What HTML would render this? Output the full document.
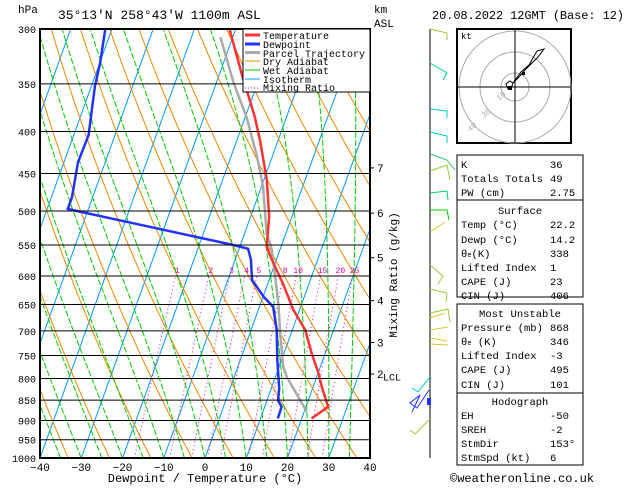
<!DOCTYPE html>
<html><head><meta charset="utf-8"><style>
body{margin:0;background:#fff;}
svg text{font-family:"Liberation Mono","DejaVu Sans Mono",monospace;}
</style></head><body>
<svg id="c" width="629" height="486" viewBox="0 0 629 486" xmlns="http://www.w3.org/2000/svg">
<defs><clipPath id="pc"><rect x="40" y="29" width="330" height="429"/></clipPath></defs>
<g id="bg" clip-path="url(#pc)"></g>
<g id="prof" clip-path="url(#pc)"></g>
<g id="ax"></g>
<text x="18" y="13" font-size="11">hPa</text>
<text x="58" y="19" font-size="13">35°13'N 258°43'W 1100m ASL</text>
<text x="374" y="13" font-size="11">km</text>
<text x="374" y="27" font-size="11">ASL</text>
<text x="432" y="19" font-size="12" textLength="192">20.08.2022 12GMT (Base: 12)</text>
<text x="205" y="482" font-size="12" text-anchor="middle">Dewpoint / Temperature (°C)</text>
<text transform="translate(397,275) rotate(-90)" font-size="11" text-anchor="middle">Mixing Ratio (g/kg)</text>
<g>
<rect x="243" y="29" width="127" height="63" fill="#fff" stroke="#000"/>
<line x1="245" y1="35" x2="260" y2="35" stroke="#f33" stroke-width="3"/><text x="263" y="39" font-size="10">Temperature</text>
<line x1="245" y1="44" x2="260" y2="44" stroke="#23f" stroke-width="3"/><text x="263" y="48" font-size="10">Dewpoint</text>
<line x1="245" y1="52.5" x2="260" y2="52.5" stroke="#aaa" stroke-width="3"/><text x="263" y="57" font-size="10">Parcel Trajectory</text>
<line x1="245" y1="61" x2="260" y2="61" stroke="#e80"/><text x="263" y="65" font-size="10">Dry Adiabat</text>
<line x1="245" y1="70" x2="260" y2="70" stroke="#0c0"/><text x="263" y="74" font-size="10">Wet Adiabat</text>
<line x1="245" y1="79" x2="260" y2="79" stroke="#09f"/><text x="263" y="83" font-size="10">Isotherm</text>
<line x1="245" y1="88" x2="260" y2="88" stroke="#e0a" stroke-dasharray="1,2"/><text x="263" y="91" font-size="10">Mixing Ratio</text>
</g>
<g id="km"></g>
<g fill="none" stroke-width="1">
<line x1="430" y1="29" x2="430" y2="458" stroke="#000"/>
<polyline points="430,29 447,33 447,40" stroke="#9c3"/>
<polyline points="430,63 447,73 443,80" stroke="#0c9"/>
<polyline points="430,109 447,111 447,118" stroke="#0cc"/>
<polyline points="430,132 447,136 447,143" stroke="#0cc"/>
<polyline points="430,154 447,160 455,170" stroke="#3c6"/>
<polyline points="430,171 447,165 450,180" stroke="#9c3"/>
<polyline points="430,193 447,191 448,200" stroke="#0c6"/>
<polyline points="430,210 447,210 449,220" stroke="#0c0"/>
<polyline points="430,232 445,222" stroke="#cc3"/>
<polyline points="430,265 443,276 438,284" stroke="#9c3"/>
<polyline points="430,289 447,293 446,302" stroke="#9c3"/>
<polyline points="430,313 448,309 450,322" stroke="#9c3"/>
<polyline points="430,318 445,313" stroke="#cc3"/>
<polyline points="430,330 448,327" stroke="#cc3"/>
<polyline points="430,338 447,341" stroke="#cc3"/>
<polyline points="430,344 448,345" stroke="#cc3"/>
<polyline points="430,377 418,392 412,388" stroke="#0cc"/>
<polyline points="429,390 417,408 410,403 420,395 412,412" stroke="#23f"/>
<rect x="427" y="398" width="4" height="7" fill="#23f" stroke="none"/>
<polyline points="430,419 415,434 410,430" stroke="#9c3"/>
</g>
<g>
<rect x="457" y="29" width="114" height="114" fill="#fff" stroke="#000" stroke-width="2"/>
<g fill="none" stroke="#aaa"><circle cx="515" cy="87" r="14"/><circle cx="515" cy="87" r="35"/><circle cx="515" cy="87" r="56"/></g>
<line x1="458" y1="87" x2="570" y2="87" stroke="#000"/><line x1="515" y1="30" x2="515" y2="142" stroke="#000"/>
<text x="461" y="39" font-size="9">kt</text>
<text x="499" y="101" font-size="8" fill="#aaa" transform="rotate(-40 499 101)">10</text>
<text x="484" y="118" font-size="8" fill="#aaa" transform="rotate(-40 484 118)">30</text>
<text x="470" y="132" font-size="8" fill="#aaa" transform="rotate(-40 470 132)">40</text>
<polyline points="508,89 506,84 510,81 513,83 521,72 529,65 537,51 544,49 538,57 533,62 525,70 518,78 513,83 511,89" fill="none" stroke="#000"/>
<rect x="508" y="86" width="4" height="4"/><rect x="522" y="72" width="3" height="3"/>
</g>
<g font-size="10.5">
<rect x="457" y="155" width="126" height="45" fill="none" stroke="#000"/>
<text x="461" y="168">K</text><text x="550" y="168">36</text>
<text x="461" y="182">Totals Totals</text><text x="550" y="182">49</text>
<text x="461" y="196">PW (cm)</text><text x="550" y="196">2.75</text>
<rect x="457" y="200" width="126" height="97" fill="none" stroke="#000"/>
<text x="520" y="214" text-anchor="middle">Surface</text>
<text x="461" y="228">Temp (°C)</text><text x="550" y="228">22.2</text>
<text x="461" y="243">Dewp (°C)</text><text x="550" y="243">14.2</text>
<text x="461" y="257">θ<tspan font-size="7">e</tspan>(K)</text><text x="550" y="257">338</text>
<text x="461" y="271">Lifted Index</text><text x="550" y="271">1</text>
<text x="461" y="285">CAPE (J)</text><text x="550" y="285">23</text>
<text x="461" y="299">CIN (J)</text><text x="550" y="299">406</text>
<rect x="457" y="304" width="126" height="89" fill="none" stroke="#000"/>
<text x="520" y="317" text-anchor="middle">Most Unstable</text>
<text x="461" y="331">Pressure (mb)</text><text x="550" y="331">868</text>
<text x="461" y="345">θ<tspan font-size="7">e</tspan> (K)</text><text x="550" y="345">346</text>
<text x="461" y="359">Lifted Index</text><text x="550" y="359">-3</text>
<text x="461" y="373">CAPE (J)</text><text x="550" y="373">495</text>
<text x="461" y="388">CIN (J)</text><text x="550" y="388">101</text>
<rect x="457" y="393" width="126" height="72" fill="none" stroke="#000"/>
<text x="520" y="405" text-anchor="middle">Hodograph</text>
<text x="461" y="419">EH</text><text x="550" y="419">-50</text>
<text x="461" y="433">SREH</text><text x="550" y="433">-2</text>
<text x="461" y="447">StmDir</text><text x="550" y="447">153°</text>
<text x="461" y="461">StmSpd (kt)</text><text x="550" y="461">6</text>
</g>
<text x="450" y="482" font-size="12">©weatheronline.co.uk</text>
</svg>
<script>
const pLevels=[300,350,400,450,500,550,600,650,700,750,800,850,900,950,1000];
const tTicks=[-40,-30,-20,-10,0,10,20,30,40];
const tempP=[895,866,819,788,745,698,660,613,579,553,508,458,410,384,361,341,300];
const tempT=[22.4,25.4,22.1,20.1,16.7,13.1,8.5,3.7,-0.4,-3.5,-5.5,-9.3,-14.4,-17.7,-21.2,-24.5,-31.5];
const dewP=[895,866,851,822,762,698,654,637,607,573,556,550,500,497,481,436,404,353,330,300];
const dewT=[14.2,14.1,12.7,11.9,9.1,6.2,3.3,0.3,-4.1,-6.2,-7.8,-11.7,-52.6,-55,-55,-56.6,-56.4,-59.1,-59.9,-61.6];
const parP=[878,796,774,704,653,607,557,532,467,429,384,349,307];
const parT=[20.6,12.7,11,7.3,4.6,1.6,-2,-4.7,-9.6,-13.7,-19.7,-25.8,-33];
const mixW=[1,2,3,4,5,8,10,15,20,25];
const kmLabels=["2","3","4","5","6","7"];
const kmP=[790,723,643,570,503,443];
const NS="http://www.w3.org/2000/svg";
const L0=Math.log(300),L1=Math.log(1000);
function yP(p){return 29+(Math.log(p)-L0)/(L1-L0)*429;}
function xT(t,p){return 40+4.125*(t+40)+0.36*(458-yP(p));}
function mk(tag,a,par){const e=document.createElementNS(NS,tag);for(const k in a)e.setAttribute(k,a[k]);par.appendChild(e);return e;}
const bg=document.getElementById('bg'),prof=document.getElementById('prof'),ax=document.getElementById('ax');
function pathFrom(pts){return pts.map((q,i)=>(i?'L':'M')+q[0].toFixed(1)+','+q[1].toFixed(1)).join('');}
for(let t=-120;t<=40;t+=10){const e=mk('line',{x1:xT(t,1000),y1:yP(1000),x2:xT(t,300),y2:yP(300),stroke:'#09f','stroke-width':1},bg);

}
for(let th=230;th<=460;th+=10){const pts=[];for(let p=1000;p>=300;p-=10){const t=th*Math.pow(p/1000,0.286)-273.15;pts.push([xT(t,p),yP(p)]);}
const e=mk('path',{d:pathFrom(pts),fill:'none',stroke:'#e80','stroke-width':1},bg);

}
function es(t){return 6.112*Math.exp(17.67*t/(t+243.5));}
for(let tw=-40;tw<=40;tw+=5){let T=tw+273.15,pts=[];for(let p=1000;p>=300;p-=5){pts.push([xT(T-273.15,p),yP(p)]);
const e_=es(T-273.15),rs=0.622*e_/(p-e_),Lv=2.5e6,Rd=287,cp=1004;
const dTdp=(Rd*T+Lv*rs)/(p*(cp+Lv*Lv*rs*0.622/(Rd*T*T)));T-=dTdp*5;}
const e=mk('path',{d:pathFrom(pts),fill:'none',stroke:'#0c0','stroke-width':1,'stroke-dasharray':'6,2'},bg);

}
function tdW(w,p){const e=w*p/(622+w),l=Math.log(e/6.112);return 243.5*l/(17.67-l);}
mixW.forEach(w=>{const pts=[];for(let p=1000;p>=600;p-=10)pts.push([xT(tdW(w,p),p),yP(p)]);
const e=mk('path',{d:pathFrom(pts),fill:'none',stroke:'#e0a','stroke-width':1,'stroke-dasharray':'1,3'},bg);


const t=mk('text',{x:xT(tdW(w,600),600)+2,y:yP(600)-3,'font-size':8,fill:'#e0a','text-anchor':'middle'},bg);t.textContent=w;

});
pLevels.forEach(p=>{const e=mk('line',{x1:40,x2:370,y1:yP(p),y2:yP(p),stroke:'#000','stroke-width':1},ax);


const t=mk('text',{x:36,y:yP(p)+4,'font-size':10,'text-anchor':'end'},ax);t.textContent=p;

});
tTicks.forEach(v=>{const t=mk('text',{x:40+4.125*(v+40),y:471,'font-size':11,'text-anchor':'middle'},ax);t.textContent=v<0?'\u2212'+(-v):v;

});
const fr=mk('rect',{x:40,y:29,width:330,height:429,fill:'none',stroke:'#000','stroke-width':2},ax);


function line(P,T,col,w,name){const pts=P.map((p,i)=>[xT(T[i],p),yP(p)]);const e=mk('path',{d:pathFrom(pts),fill:'none',stroke:col,'stroke-width':w},prof);

}
line(parP,parT,'#aaa',2.5,'parcel-trajectory');
line(tempP,tempT,'#f33',2.5,'temperature-line');
line(dewP,dewT,'#23f',2.5,'dewpoint-line');
const km=document.getElementById('km');
kmLabels.forEach((k,i)=>{const y=yP(kmP[i]);mk('line',{x1:370,x2:374,y1:y,y2:y,stroke:'#000'},km);
const t=mk('text',{x:377,y:y+4,'font-size':11},km);t.textContent=k;

});
const lcl=mk('text',{x:383,y:yP(796)+4,'font-size':10},km);lcl.textContent='LCL';


</script>
</body></html>
